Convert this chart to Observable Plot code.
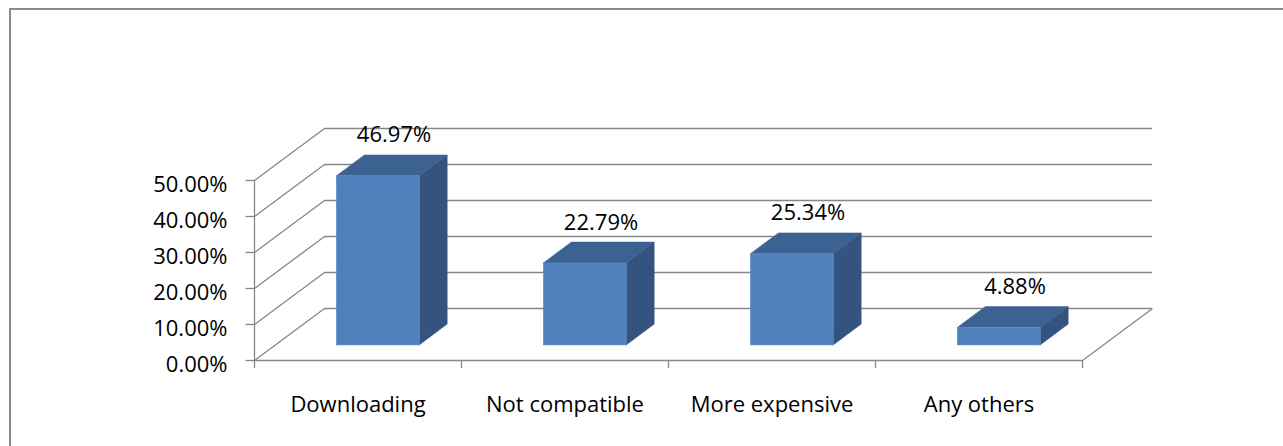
<!DOCTYPE html>
<html>
<head>
<meta charset="utf-8">
<script src="https://cdn.jsdelivr.net/npm/d3@7"></script>
<script src="https://cdn.jsdelivr.net/npm/@observablehq/plot@0.6"></script>
<style>
  html, body { margin: 0; padding: 0; background: #fff; }
  #wrap { position: relative; width: 1283px; height: 446px; overflow: hidden; }
  #border { position: absolute; left: 9px; top: 8px; right: -10px; bottom: -10px;
            border-left: 2px solid #8c8c8c; border-top: 2px solid #8c8c8c; pointer-events: none; }
  #chart { position: absolute; left: 0; top: 0; }
</style>
</head>
<body>
<div id="wrap"><div id="chart"></div><div id="border"></div></div>
<script>
// ---- data ----
const categories = ["Downloading", "Not compatible", "More expensive", "Any others"];
const values = [46.97, 22.79, 25.34, 4.88];
const yTicks = [0, 10, 20, 30, 40, 50];
const yTickLabels = ["0.00%", "10.00%", "20.00%", "30.00%", "40.00%", "50.00%"];
const valueLabels = ["46.97%", "22.79%", "25.34%", "4.88%"];

// ---- geometry (front plane scales) ----
const W = 1283, H = 446;
const mL = 254, mR = 201, mT = 180, mB = 86;
const PX = categories.length / (W - mL - mR);   // category units per pixel
const PY = 50 / (H - mT - mB);                  // percent per pixel
const DX = 70 * PX, DY = 52 * PY;               // full depth vector (data units)
const Z1 = 0.29, Z2 = 0.69;                     // bar front/back depth fractions
const HALF = 0.2;                               // half bar width (category units)

const bars = categories.map((c, i) => ({c, i, v: values[i], label: valueLabels[i]}));

const sideFaces = bars.flatMap(b => [Z1, Z2].map(z => ({
  k: b.c, x: b.i + 0.5 + HALF + z * DX, y1: z * DY, y2: b.v + z * DY
})));
const topFaces = bars.flatMap(b => [Z1, Z2].map(z => ({
  k: b.c, y: b.v + z * DY, x1: b.i + 0.5 - HALF + z * DX, x2: b.i + 0.5 + HALF + z * DX
})));

const grid = "#878787";
const gw = 1.3;
const font = "'Open Sans', 'DejaVu Sans', sans-serif";

const chart = Plot.plot({
  width: W, height: H,
  marginLeft: mL, marginRight: mR, marginTop: mT, marginBottom: mB,
  x: {domain: [0, categories.length], axis: null},
  y: {domain: [0, 50], axis: null},
  style: {fontFamily: font, fontSize: "22px", color: "#000", background: "transparent", overflow: "visible"},
  marks: [
    // back wall gridlines
    Plot.ruleY(yTicks, {y: d => d + DY, x1: DX, x2: categories.length + DX, stroke: grid, strokeWidth: gw}),
    // left wall obliques
    Plot.link(yTicks, {x1: 0, y1: d => d, x2: DX, y2: d => d + DY, stroke: grid, strokeWidth: gw}),
    // floor right edge
    Plot.link([0], {x1: categories.length, y1: 0, x2: categories.length + DX, y2: DY, stroke: grid, strokeWidth: gw}),
    // axes lines
    Plot.ruleX([0], {x: 0, y1: 0, y2: 50, stroke: grid, strokeWidth: gw}),
    Plot.ruleY([0], {y: 0, x1: 0, x2: categories.length, stroke: grid, strokeWidth: gw}),
    // y ticks
    Plot.link(yTicks, {x1: -9 * PX, x2: 0, y1: d => d, y2: d => d, stroke: grid, strokeWidth: gw}),
    // x ticks
    Plot.ruleX(d3.range(categories.length + 1), {x: d => d, y1: 0, y2: -8 * PY, stroke: grid, strokeWidth: gw}),
    // bars: side, top, front
    Plot.areaY(sideFaces, {x: "x", y1: "y1", y2: "y2", z: "k", fill: "#34537f", stroke: "#34537f", strokeWidth: 0.5}),
    Plot.areaX(topFaces, {y: "y", x1: "x1", x2: "x2", z: "k", fill: "#3c6292", stroke: "#3c6292", strokeWidth: 0.5}),
    Plot.rect(bars, {
      x1: b => b.i + 0.5 - HALF + Z1 * DX, x2: b => b.i + 0.5 + HALF + Z1 * DX,
      y1: Z1 * DY, y2: b => b.v + Z1 * DY,
      fill: "#4f81bd", stroke: "#5a8ac4", strokeWidth: 0.6
    }),
    // value labels
    Plot.text(bars, {x: b => b.i + 0.5, y: "v", text: "label", dx: 36, dy: -56, fill: "#000", fontSize: 22}),
    // y tick labels
    Plot.text(yTicks, {x: 0, y: d => d, text: (d, i) => yTickLabels[i], textAnchor: "end", dx: -27, dy: 4.5, fill: "#000", fontSize: 22}),
    // category labels
    Plot.text(bars, {x: b => b.i + 0.5, y: 0, text: "c", dy: 44.7, fill: "#000", fontSize: 22})
  ]
});
document.getElementById("chart").appendChild(chart);
</script>
</body>
</html>
